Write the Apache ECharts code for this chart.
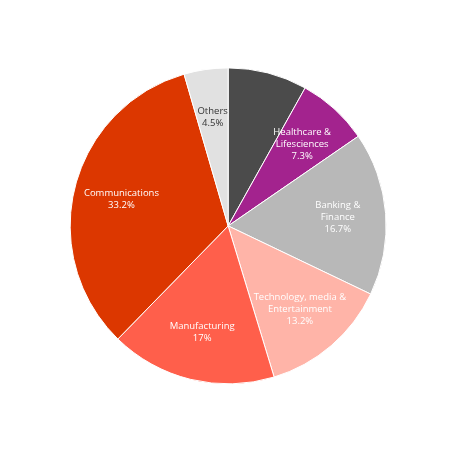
<!DOCTYPE html>
<html>
<head>
<meta charset="utf-8">
<script src="https://cdn.jsdelivr.net/npm/echarts@6/dist/echarts.min.js"></script>
<style>html,body{margin:0;padding:0;background:#fff}#chart{width:450px;height:450px}</style>
</head>
<body>
<div id="chart"></div>
<script>
const names = ["Retail,\nTransport &\nLogistics", "Healthcare &\nLifesciences", "Banking &\nFinance",
    "Technology, media &\nEntertainment", "Manufacturing", "Communications", "Others"];
const values = [8.1, 7.3, 16.7, 13.2, 17, 33.2, 4.5];
const colors = ["#4b4b4b", "#a3238e", "#b8b8b8", "#ffb4a8", "#ff5f4b", "#dc3700", "#e1e1e1"];
const labelColors = ["#fff", "#fff", "#fff", "#fff", "#fff", "#fff", "#333"];

const chart = echarts.init(document.getElementById("chart"), null, { renderer: "canvas" });
const center = ["50.7%", "50.2%"];
const data = names.map((name, i) => ({ name, value: values[i], itemStyle: { color: colors[i] } }));

chart.setOption({
    animation: false,
    series: [
        {
            type: "pie",
            radius: [0, 158],
            center,
            startAngle: 90,
            clockwise: true,
            silent: true,
            label: { show: false },
            itemStyle: { borderColor: "#fff", borderWidth: 1 },
            data
        },
        {
            type: "pie",
            radius: [56, 158],
            center,
            startAngle: 90,
            clockwise: true,
            silent: true,
            itemStyle: { color: "transparent" },
            label: {
                position: "inside",
                fontFamily: "Open Sans",
                fontSize: 9.5,
                lineHeight: 12,
                formatter: ({ name, value }) => `${name}\n${value}%`
            },
            data: names.map((name, i) => ({
                name, value: values[i],
                itemStyle: { color: "transparent" },
                label: { color: labelColors[i] }
            }))
        }
    ]
});
</script>
</body>
</html>
